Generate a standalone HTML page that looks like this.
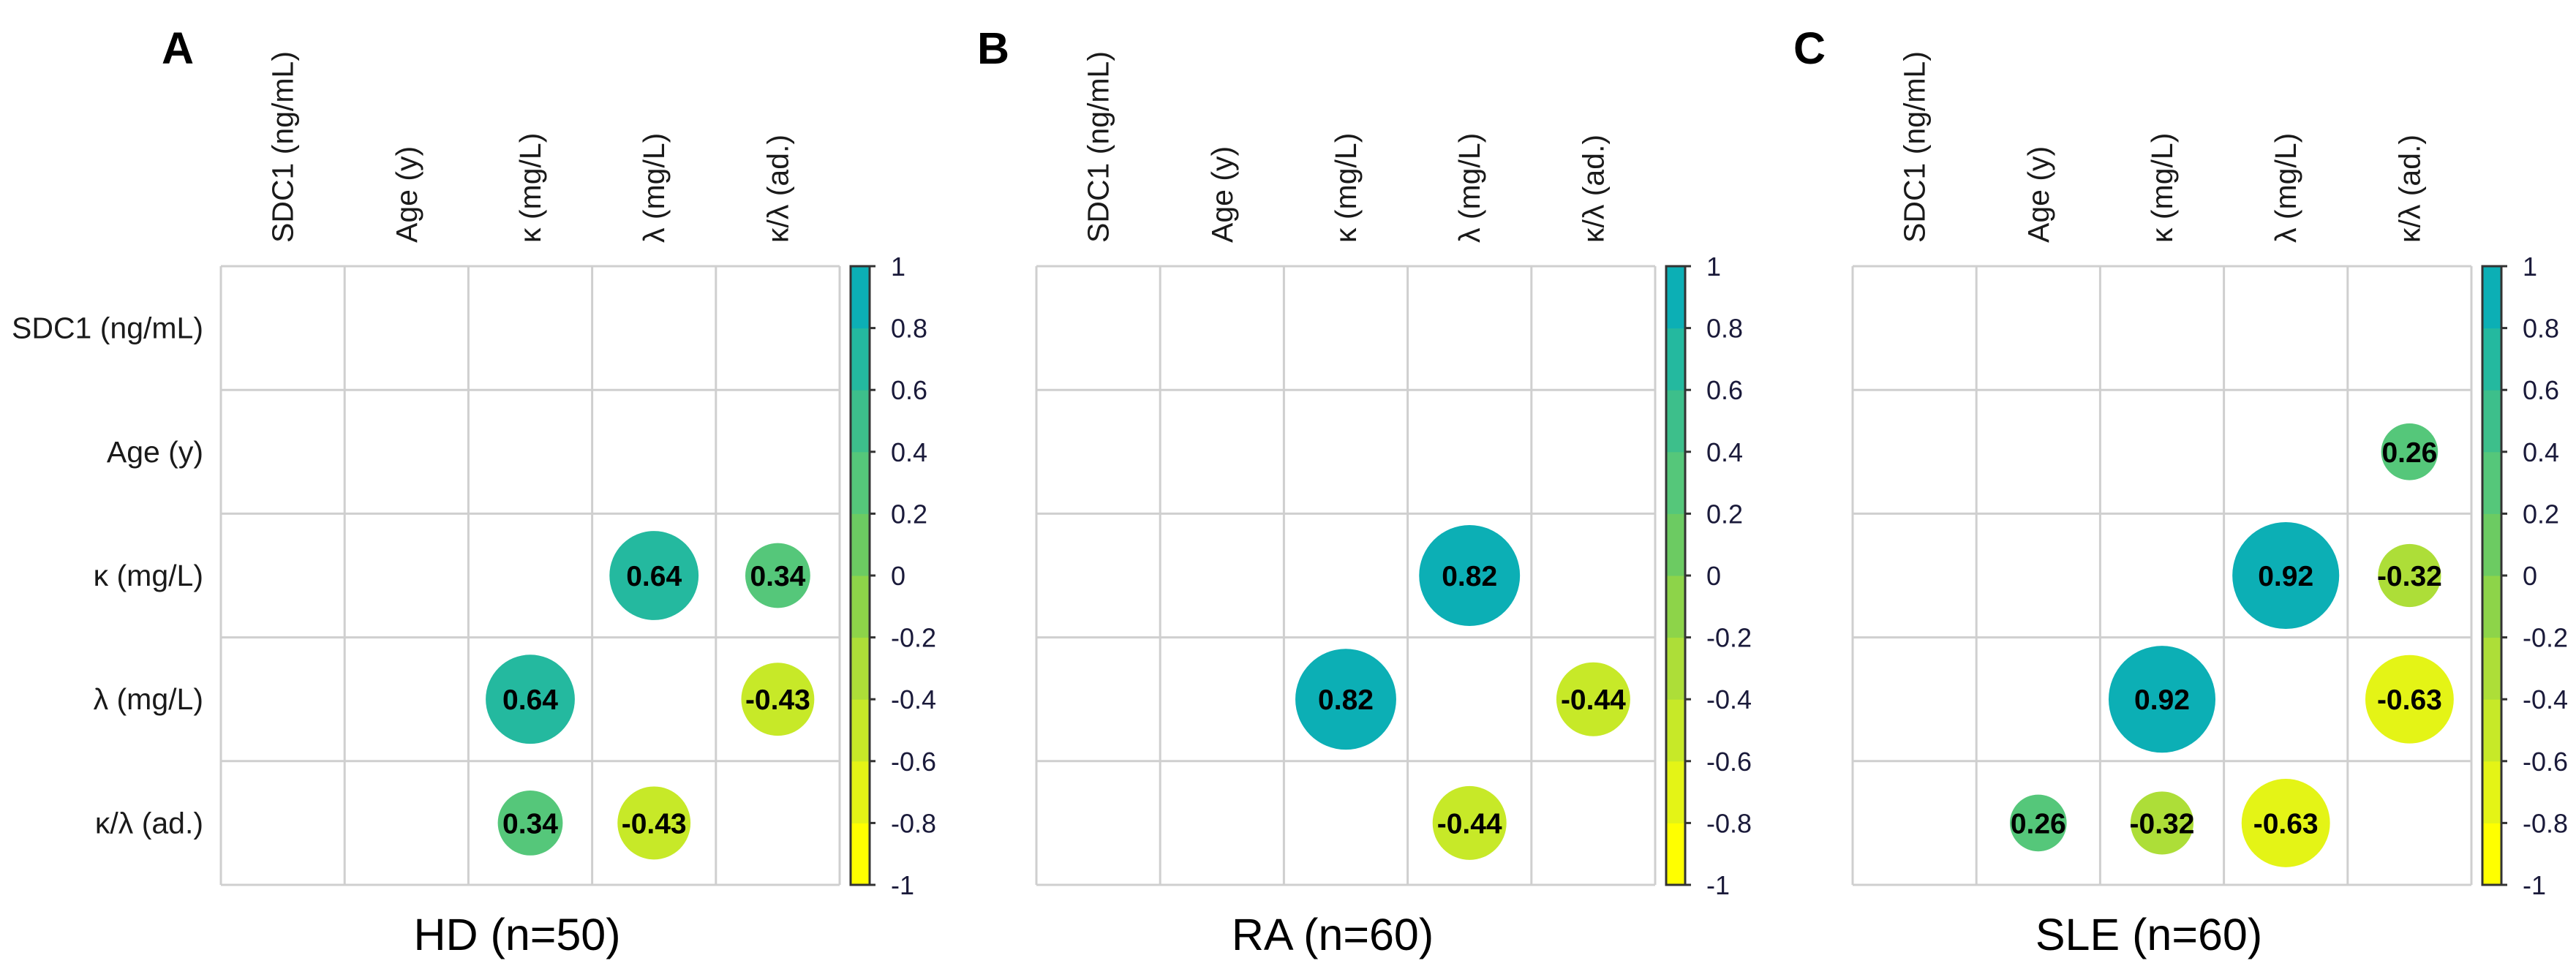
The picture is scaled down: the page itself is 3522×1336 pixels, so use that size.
<!DOCTYPE html>
<html><head><meta charset="utf-8"><style>
html,body{margin:0;padding:0;background:#fff;}
svg{display:block;font-family:"Liberation Sans",Arial,sans-serif;}
</style></head><body>
<svg id="fig" width="3522" height="1336" viewBox="0 0 3522 1336" xmlns="http://www.w3.org/2000/svg"></svg>
<script>
const varLabels = ["SDC1 (ng/mL)", "Age (y)", "κ (mg/L)", "λ (mg/L)", "κ/λ (ad.)"];
const panelLetters = ["A", "B", "C"];
const panelTitles = ["HD (n=50)", "RA (n=60)", "SLE (n=60)"];
// correlations listed as [row, col, r]; mirrored across diagonal
const corrHD = [[2,3,0.64],[2,4,0.34],[3,4,-0.43]];
const corrRA = [[2,3,0.82],[3,4,-0.44]];
const corrSLE = [[1,4,0.26],[2,3,0.92],[2,4,-0.32],[3,4,-0.63]];
const panelCorrs = [corrHD, corrRA, corrSLE];
const cbTicks = [1,0.8,0.6,0.4,0.2,0,-0.2,-0.4,-0.6,-0.8,-1];
const cbTickLabels = ["1","0.8","0.6","0.4","0.2","0","-0.2","-0.4","-0.6","-0.8","-1"];
const binColors = ["#FFFF00","#E4F416","#C7E928","#ADDE38","#8DD449","#6CCB62","#55C77A","#3DBF8B","#24B99F","#0CAFB5"];

const NS = "http://www.w3.org/2000/svg";
const svg = document.getElementById("fig");
function mk(tag, attrs, parent){const e=document.createElementNS(NS,tag);for(const k in attrs)e.setAttribute(k,attrs[k]);(parent||svg).appendChild(e);return e;}
function colorFor(r){let i=Math.floor((r+1)/0.2);if(i<0)i=0;if(i>9)i=9;return binColors[i];}

const n = varLabels.length;
const gridW = 846, cell = gridW/n, gridTop = 364;
const panelX0 = [302, 1417, 2533];

panelX0.forEach((gx, p) => {
  const g = mk("g", {});
  
  
  const xs = i => gx + i*cell;
  const ys = i => gridTop + i*cell;

  const L = mk("text", {x: gx-81, y: 87, "font-size": 61, "font-weight": "bold", fill: "#000"}, g);
  L.textContent = panelLetters[p];
  
  

  for (let i = 0; i <= n; i++) {
    const vl = mk("line", {x1: xs(i), y1: ys(0), x2: xs(i), y2: ys(n), stroke: "#cfcfcf", "stroke-width": 3}, g);
    
    
    const hl = mk("line", {x1: xs(0), y1: ys(i), x2: xs(n), y2: ys(i), stroke: "#cfcfcf", "stroke-width": 3}, g);
    
    
  }
  varLabels.forEach((lab, i) => {
    if (p === 0) {
      const rl = mk("text", {x: gx-24, y: ys(i)+cell/2+14, "font-size": 41, "text-anchor": "end", fill: "#1a1a1a"}, g);
      rl.textContent = lab;
      
      
    }
    const cx = xs(i)+cell/2+14, cy = gridTop-32;
    const cl = mk("text", {x: cx, y: cy, "font-size": 41, fill: "#1a1a1a", transform: `rotate(-90 ${cx} ${cy})`}, g);
    cl.textContent = lab;
    
    
  });
  panelCorrs[p].forEach(([a, b, r]) => {
    [[a,b],[b,a]].forEach(([row, col]) => {
      const cx = xs(col)+cell/2, cy = ys(row)+cell/2;
      const rad = 0.45*cell*Math.sqrt(Math.abs(r));
      const c = mk("circle", {cx: cx, cy: cy, r: rad, fill: colorFor(r)}, g);
      
      
      const t = mk("text", {x: cx, y: cy+14, "font-size": 39, "font-weight": "bold", "text-anchor": "middle", fill: "#000"}, g);
      t.textContent = r.toFixed(2);
      
      
    });
  });
  const cbx = gx + gridW + 15, cbw = 26, cbTop = gridTop, cbH = gridW;
  const cby = v => cbTop + (1 - v)/2*cbH;
  binColors.forEach((col, i) => {
    const lo = -1 + i*0.2, hi = lo + 0.2;
    const seg = mk("rect", {x: cbx, y: cby(hi), width: cbw, height: cby(lo)-cby(hi)+0.5, fill: col}, g);
    
    
  });
  const bd = mk("rect", {x: cbx, y: cbTop, width: cbw, height: cbH, fill: "none", stroke: "#333", "stroke-width": 3}, g);
  
  
  cbTicks.forEach((v, i) => {
    const tk = mk("line", {x1: cbx+cbw, y1: cby(v), x2: cbx+cbw+8, y2: cby(v), stroke: "#333", "stroke-width": 3}, g);
    
    
    const tl = mk("text", {x: cbx+55, y: cby(v)+13, "font-size": 36, fill: "#1a1a3a"}, g);
    tl.textContent = cbTickLabels[i];
    
    
  });
  const T = mk("text", {x: gx+405, y: 1299, "font-size": 61, "text-anchor": "middle", fill: "#000"}, g);
  T.textContent = panelTitles[p];
  
  
});
</script>
</body></html>
